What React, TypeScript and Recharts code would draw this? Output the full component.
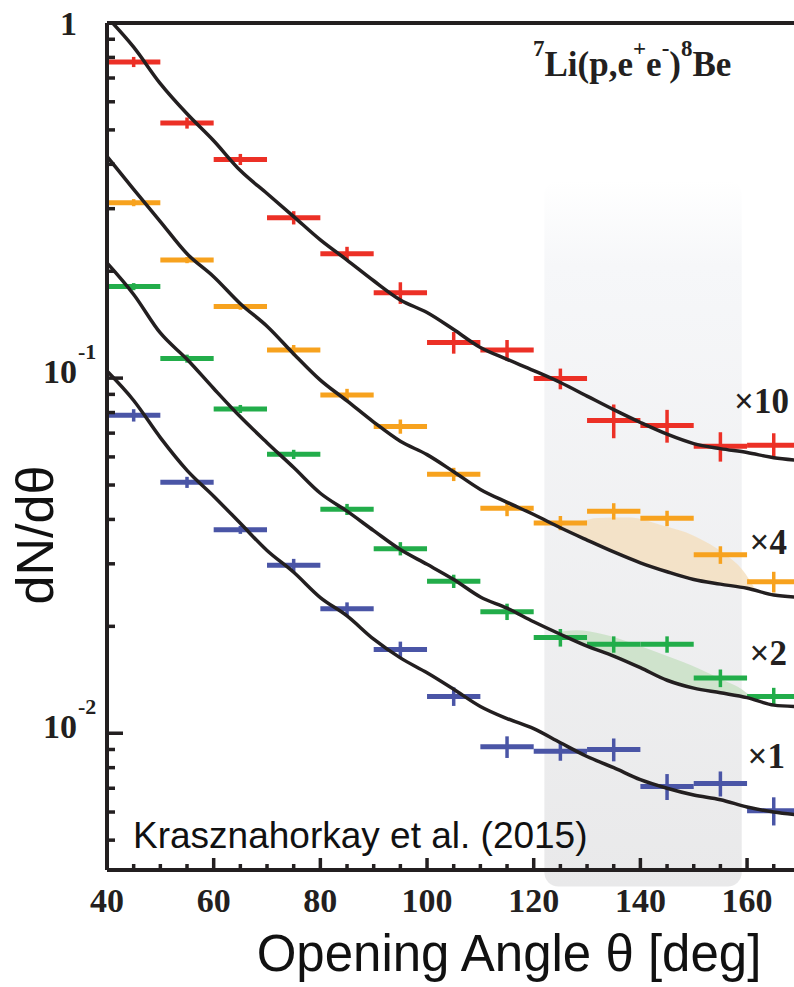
import React from 'react';
import { ComposedChart, Line, Scatter, ErrorBar, Area, XAxis, YAxis, ReferenceArea, ReferenceLine } from 'recharts';

// measured points, bins of 10 deg
const angleBins = [45, 55, 65, 75, 85, 95, 105, 115, 125, 135, 145, 155, 165];
const redPts = [0.777, 0.523, 0.413, 0.283, 0.224, 0.174, 0.126, 0.12, 0.0997, 0.076, 0.0736, 0.0643, 0.0647];
const orangePts = [0.312, 0.215, 0.159, 0.12, 0.0897, 0.0731, 0.0536, 0.043, 0.0391, 0.0422, 0.0403, 0.0318, 0.0267];
const greenPts = [0.181, 0.1135, 0.0819, 0.061, 0.0427, 0.0331, 0.0268, 0.022, 0.0186, 0.0178, 0.0178, 0.0143, 0.0127];
const bluePts = [0.0786, 0.0509, 0.0374, 0.0297, 0.0224, 0.0172, 0.0127, 0.00916, 0.0089, 0.009, 0.00708, 0.00722, 0.00605];

// relative vertical errors
const redErr = [0.033, 0.036, 0.036, 0.043, 0.046, 0.07, 0.07, 0.067, 0.067, 0.109, 0.106, 0.095, 0.081];
const orangeErr = [0.023, 0.02, 0.02, 0.033, 0.04, 0.046, 0.043, 0.05, 0.046, 0.053, 0.05, 0.057, 0.067];
const greenErr = [0.023, 0.026, 0.026, 0.03, 0.036, 0.043, 0.043, 0.053, 0.057, 0.053, 0.053, 0.057, 0.057];
const blueErr = [0.04, 0.036, 0.026, 0.043, 0.043, 0.053, 0.06, 0.07, 0.06, 0.074, 0.084, 0.081, 0.091];

// simulation curves
const curveAngles = [40, 45, 50, 55, 60, 65, 70, 75, 80, 85, 90, 95, 100, 105, 110, 115, 120, 125, 130, 135, 140, 145, 150, 155, 160, 165, 169];
const redCurve = [1.04, 0.855, 0.675, 0.555, 0.466, 0.384, 0.331, 0.285, 0.245, 0.215, 0.188, 0.166, 0.153, 0.137, 0.122, 0.113, 0.105, 0.0972, 0.089, 0.0815, 0.075, 0.0695, 0.0654, 0.0633, 0.0617, 0.0597, 0.0588];
const orangeCurve = [0.421, 0.34, 0.276, 0.224, 0.193, 0.162, 0.14, 0.117, 0.0987, 0.0863, 0.0752, 0.0664, 0.0609, 0.0545, 0.0486, 0.0447, 0.0413, 0.0379, 0.035, 0.0324, 0.0302, 0.0285, 0.0271, 0.0263, 0.0256, 0.0245, 0.0242];
const greenCurve = [0.211, 0.172, 0.134, 0.113, 0.0935, 0.0778, 0.0658, 0.056, 0.0474, 0.0422, 0.0372, 0.0329, 0.0299, 0.0271, 0.0242, 0.0225, 0.0206, 0.019, 0.0176, 0.0165, 0.0153, 0.0141, 0.0134, 0.013, 0.0126, 0.012, 0.0119];
const blueCurve = [0.1047, 0.0865, 0.068, 0.055, 0.0465, 0.039, 0.0327, 0.0284, 0.0241, 0.0214, 0.0184, 0.0163, 0.0148, 0.0133, 0.0119, 0.011, 0.0103, 0.0094, 0.0086, 0.008, 0.0074, 0.007, 0.0067, 0.0065, 0.0062, 0.006, 0.0059];

// excess bumps
const orangeBlobX = [122.5, 126, 132, 138, 144, 150, 156, 159, 161.5];
const orangeBlobLow = [0.0395, 0.0373, 0.0338, 0.031, 0.0288, 0.027, 0.0261, 0.0258, 0.0255];
const orangeBlobHigh = [0.0395, 0.0386, 0.0404, 0.0405, 0.0385, 0.036, 0.0318, 0.029, 0.0255];
const greenBlobX = [124, 128, 133, 139, 145, 151, 156, 159, 161];
const greenBlobLow = [0.0192, 0.0181, 0.0169, 0.0155, 0.0141, 0.0134, 0.013, 0.0128, 0.0126];
const greenBlobHigh = [0.0192, 0.0195, 0.019, 0.0178, 0.0165, 0.0152, 0.014, 0.0133, 0.0126];

const xTicks = [40, 45, 50, 55, 60, 65, 70, 75, 80, 85, 90, 95, 100, 105, 110, 115, 120, 125, 130, 135, 140, 145, 150, 155, 160, 165];
const yTicks = [0.005, 0.006, 0.007, 0.008, 0.009, 0.01, 0.02, 0.03, 0.04, 0.05, 0.06, 0.07, 0.08, 0.09, 0.1, 0.2, 0.3, 0.4, 0.5, 0.6, 0.7, 0.8, 0.9, 1];

const RED = '#ec3026';
const ORANGE = '#f7a21e';
const GREEN = '#22ad4a';
const BLUE = '#4a55a6';
const INK = '#231f20';
const SERIF = '"Liberation Serif", "Times New Roman", serif';
const SANS = '"Liberation Sans", Arial, sans-serif';

const curveData = curveAngles.map((x, i) => ({
  x,
  red: redCurve[i],
  orange: orangeCurve[i],
  green: greenCurve[i],
  blue: blueCurve[i],
}));

const points = (vals: number[], errs: number[]) =>
  angleBins.map((x, i) => ({ x, y: vals[i], xe: 5, ye: vals[i] * errs[i] }));

const blob = (xs: number[], lo: number[], hi: number[]) =>
  xs.map((x, i) => ({ x, range: [lo[i], hi[i]] }));

const YTick = (props: any) => {
  const { x, y, payload } = props;
  const v = payload.value;
  const exp = Math.round(Math.log10(v));
  const major = Math.abs(Math.log10(v) - exp) < 1e-6;
  return (
    <g>
      <line x1={x} x2={x + (major ? 16 : 8)} y1={y} y2={y} stroke={INK} strokeWidth={3.5} />
      {major && exp === 0 && (
        <text x={x - 30} y={y + 12} textAnchor="end" fontFamily={SERIF} fontWeight="bold" fontSize={34} fill={INK}>1</text>
      )}
      {major && exp !== 0 && (
        <g>
          <text x={x - 30} y={y + 5} textAnchor="end" fontFamily={SERIF} fontWeight="bold" fontSize={34} fill={INK}>10</text>
          <text x={x - 29} y={y - 19} textAnchor="start" fontFamily={SERIF} fontWeight="bold" fontSize={22} fill={INK}>{exp}</text>
        </g>
      )}
    </g>
  );
};

const XTick = (props: any) => {
  const { x, y, payload } = props;
  const v = payload.value;
  const major = v % 20 === 0;
  return (
    <g>
      <line x1={x} x2={x} y1={y} y2={y - (major ? 12 : 6)} stroke={INK} strokeWidth={3.5} />
      {major && (
        <text x={x} y={y + 42} textAnchor="middle" fontFamily={SERIF} fontWeight="bold" fontSize={34} fill={INK}>{v}</text>
      )}
    </g>
  );
};

const ShadeBox = (p: any) => (
  <rect x={p.x} y={p.y} width={p.width} height={p.height} rx={14} ry={14} fill="url(#shade)" />
);

const series = [
  { key: 'red', color: RED, vals: redPts, errs: redErr },
  { key: 'orange', color: ORANGE, vals: orangePts, errs: orangeErr },
  { key: 'green', color: GREEN, vals: greenPts, errs: greenErr },
  { key: 'blue', color: BLUE, vals: bluePts, errs: blueErr },
];

const App = () => {
  return (
    <div style={{ position: 'absolute', left: 0, top: 0, width: 794, height: 987, background: '#fff', overflow: 'hidden' }}>
      <ComposedChart width={794} height={987} data={curveData} margin={{ top: 23, right: 0, bottom: 0, left: 0 }}>
        <defs>
          <linearGradient id="shade" x1="0" y1="0" x2="0" y2="1">
            <stop offset="0%" stopColor="#f6f7f9" stopOpacity={0} />
            <stop offset="12%" stopColor="#f6f7f9" stopOpacity={1} />
            <stop offset="100%" stopColor="#e9e9ea" stopOpacity={1} />
          </linearGradient>
        </defs>
        <ReferenceArea x1={122} x2={159} y1={0.0037} y2={0.36} ifOverflow="visible" shape={<ShadeBox />} />
        <XAxis
          dataKey="x"
          type="number"
          domain={[40, 168.8]}
          allowDataOverflow
          ticks={xTicks}
          interval={0}
          height={117}
          tickSize={0}
          tickMargin={0}
          tick={<XTick />}
          axisLine={{ stroke: INK, strokeWidth: 4 }}
        />
        <YAxis
          dataKey="y"
          type="number"
          scale="log"
          domain={[0.00412, 1]}
          allowDataOverflow
          ticks={yTicks}
          interval={0}
          width={107}
          tickSize={0}
          tickMargin={0}
          tick={<YTick />}
          axisLine={{ stroke: INK, strokeWidth: 4 }}
        />
        <ReferenceLine y={1} stroke={INK} strokeWidth={4} />
        <Area data={blob(orangeBlobX, orangeBlobLow, orangeBlobHigh)} dataKey="range" type="monotone" stroke="none" fill="#f4dfbd" fillOpacity={0.8} isAnimationActive={false} />
        <Area data={blob(greenBlobX, greenBlobLow, greenBlobHigh)} dataKey="range" type="monotone" stroke="none" fill="#c9e0c6" fillOpacity={0.85} isAnimationActive={false} />
        {series.map((s) => (
          <Scatter key={s.key} data={points(s.vals, s.errs)} dataKey="y" shape={() => <g />} isAnimationActive={false}>
            <ErrorBar dataKey="xe" direction="x" width={0} stroke={s.color} strokeWidth={5} />
            <ErrorBar dataKey="ye" direction="y" width={0} stroke={s.color} strokeWidth={3.5} />
          </Scatter>
        ))}
        {series.map((s) => (
          <Line key={s.key + 'c'} dataKey={s.key} type="monotone" stroke={INK} strokeWidth={3.5} dot={false} isAnimationActive={false} />
        ))}
      </ComposedChart>
      <svg width={794} height={987} style={{ position: 'absolute', left: 0, top: 0, pointerEvents: 'none' }}>
        <text x={533} y={76} fontFamily={SERIF} fontWeight="bold" fontSize={35} fill={INK}>
          <tspan fontSize={23} dy={-20}>7</tspan>
          <tspan dy={20}>Li(p,e</tspan>
          <tspan fontSize={23} dy={-20}>+</tspan>
          <tspan dy={20}>e</tspan>
          <tspan fontSize={23} dy={-20}>-</tspan>
          <tspan dy={20}>)</tspan>
          <tspan fontSize={23} dy={-20}>8</tspan>
          <tspan dy={20}>Be</tspan>
        </text>
        <text x={789} y={413} textAnchor="end" fontFamily={SERIF} fontWeight="bold" fontSize={35} fill={INK}>×10</text>
        <text x={787} y={554} textAnchor="end" fontFamily={SERIF} fontWeight="bold" fontSize={35} fill={INK}>×4</text>
        <text x={787} y={665} textAnchor="end" fontFamily={SERIF} fontWeight="bold" fontSize={35} fill={INK}>×2</text>
        <text x={785} y={768} textAnchor="end" fontFamily={SERIF} fontWeight="bold" fontSize={35} fill={INK}>×1</text>
        <text x={133} y={848} fontFamily={SANS} fontSize={37} fill="#111">Krasznahorkay et al. (2015)</text>
        <text x={509} y={971} textAnchor="middle" fontFamily={SANS} fontSize={51} fill="#111">Opening Angle θ [deg]</text>
        <text x={53} y={535} transform="rotate(-90 53 535)" textAnchor="middle" fontFamily={SANS} fontSize={52} fill="#111">dN/dθ</text>
      </svg>
    </div>
  );
};

export default App;
